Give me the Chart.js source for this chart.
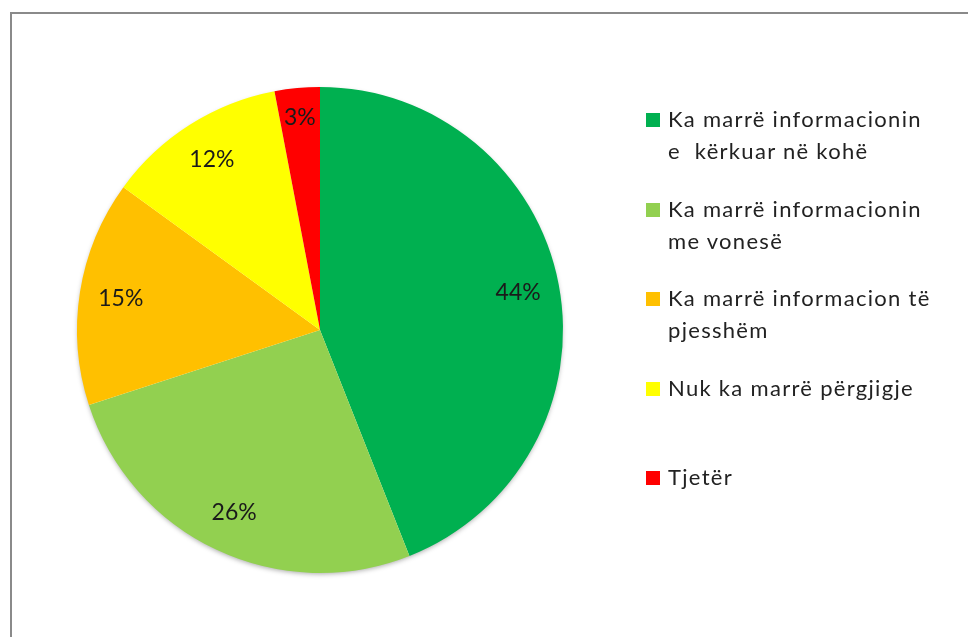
<!DOCTYPE html>
<html>
<head>
<meta charset="utf-8">
<script src="https://cdn.jsdelivr.net/npm/chart.js@4"></script>
<style>
  body { margin:0; background:#fff; }
  #wrap { position:relative; width:968px; height:637px; overflow:hidden; }
  #frame { position:absolute; left:10px; top:12px; width:1000px; height:700px; border:2px solid #8a8a8a; }
  #pieChart { position:absolute; left:0; top:0; }
  #legend { position:absolute; left:646px; top:0; font-family:Lato, "Open Sans", sans-serif; font-size:22px; letter-spacing:1.3px; color:#222; }
  .item { position:absolute; left:0; width:320px; }
  .box { position:absolute; left:0; width:14px; height:14px; }
  .txt { position:absolute; left:22px; line-height:32px; white-space:pre; }
</style>
</head>
<body>
<div id="wrap">
  <div id="frame"></div>
  <canvas id="pieChart" width="968" height="637"></canvas>
  <div id="legend"></div>
</div>
<script>
var labels = [
  ['Ka marrë informacionin', 'e  kërkuar në kohë'],
  ['Ka marrë informacionin', 'me vonesë'],
  ['Ka marrë informacion të', 'pjesshëm'],
  ['Nuk ka marrë përgjigje'],
  ['Tjetër']
];
var values = [44, 26, 15, 12, 3];
var colors = ['#00B050', '#92D050', '#FFC000', '#FFFF00', '#FF0000'];

// legend (html so the two-line labels wrap like the original)
var legend = document.getElementById('legend');
labels.forEach(function(lines, i) {
  var itemTop = 120 + i * 89.5;
  var item = document.createElement('div');
  item.className = 'item';
  item.style.top = itemTop + 'px';
  var box = document.createElement('div');
  box.className = 'box';
  box.style.top = '-7px';
  box.style.background = colors[i];
  var txt = document.createElement('div');
  txt.className = 'txt';
  txt.style.top = '-17px';
  txt.textContent = lines.join('\n');
  item.appendChild(box);
  item.appendChild(txt);
  legend.appendChild(item);
});

// soft shadow behind the pie
var pieShadow = {
  id: 'pieShadow',
  beforeDatasetsDraw: function(chart) {
    var arc = chart.getDatasetMeta(0).data[0];
    if (!arc) return;
    var ctx = chart.ctx;
    ctx.save();
    ctx.shadowColor = 'rgba(0,0,0,0.35)';
    ctx.shadowBlur = 5;
    ctx.shadowOffsetY = 2;
    ctx.beginPath();
    ctx.arc(arc.x, arc.y, arc.outerRadius - 1, 0, Math.PI * 2);
    ctx.fillStyle = '#fff';
    ctx.fill();
    ctx.restore();
  }
};

// percentage labels on the slices
var sliceLabels = {
  id: 'sliceLabels',
  afterDatasetsDraw: function(chart) {
    var ctx = chart.ctx;
    var meta = chart.getDatasetMeta(0);
    ctx.save();
    ctx.font = '23px Lato, "Open Sans", sans-serif';
    ctx.fillStyle = '#1a1a1a';
    ctx.textAlign = 'center';
    ctx.textBaseline = 'middle';
    meta.data.forEach(function(arc, i) {
      var mid = (arc.startAngle + arc.endAngle) / 2;
      var r = arc.outerRadius * (i == 4 ? 0.88 : 0.83);
      ctx.fillText(values[i] + '%', arc.x + Math.cos(mid) * r, arc.y + Math.sin(mid) * r);
    });
    ctx.restore();
  }
};

let pieChart = document.getElementById('pieChart').getContext('2d');

let chart = new Chart(pieChart, {
  type: 'pie',
  data: {
    labels: labels.map(function(l) { return l.join(' '); }),
    datasets: [{
      data: values,
      backgroundColor: colors,
      borderWidth: 0
    }]
  },
  options: {
    responsive: false,
    animation: false,
    layout: { padding: { left: 77, right: 405, top: 87, bottom: 64 } },
    plugins: {
      legend: { display: false },
      tooltip: { enabled: false }
    }
  },
  plugins: [pieShadow, sliceLabels]
});
</script>
</body>
</html>
